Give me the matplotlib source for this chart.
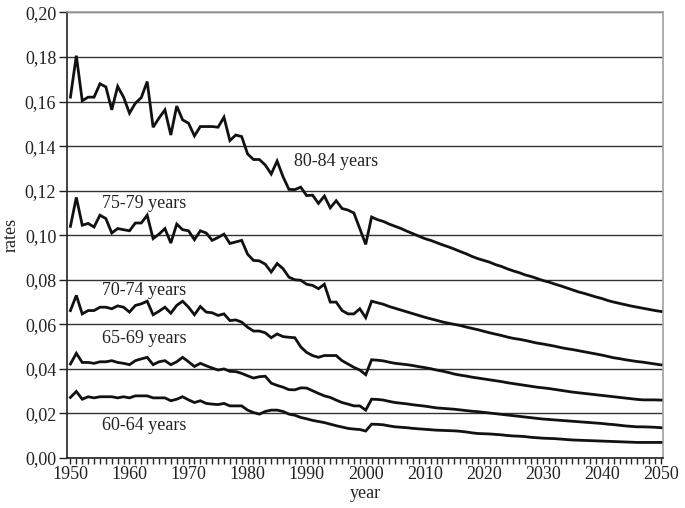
import numpy as np
import matplotlib
matplotlib.use("Agg")
from matplotlib import pyplot as plt
from matplotlib.ticker import FuncFormatter, MultipleLocator

plt.rcParams['font.family'] = ['Liberation Serif', 'DejaVu Serif']

# years 1950..2050, observed up to 2000 then projected
years = np.arange(1950, 2051)

# 80-84 years
rates_80_84 = [
    0.1620, 0.1806, 0.1604, 0.1620, 0.1620, 0.1680, 0.1666, 0.1563, 0.1668, 0.1620,
    0.1548, 0.1593, 0.1618, 0.1690, 0.1485, 0.1526, 0.1563, 0.1450, 0.1580, 0.1518,
    0.1503, 0.1446, 0.1488, 0.1488, 0.1488, 0.1485, 0.1530, 0.1425, 0.1450, 0.1443,
    0.1365, 0.1340, 0.1340, 0.1315, 0.1275, 0.1333, 0.1263, 0.1206, 0.1205, 0.1216,
    0.1178, 0.1180, 0.1143, 0.1176, 0.1123, 0.1155, 0.1120, 0.1113, 0.1100, 0.1030,
    0.0959,
    0.1082, 0.1070, 0.1062, 0.1050, 0.1040, 0.1030, 0.1018, 0.1007, 0.0996, 0.0985,
    0.0977, 0.0967, 0.0957, 0.0948, 0.0938, 0.0927, 0.0917, 0.0905, 0.0895, 0.0887,
    0.0879, 0.0868, 0.0860, 0.0849, 0.0840, 0.0832, 0.0822, 0.0815, 0.0806, 0.0797,
    0.0790, 0.0781, 0.0773, 0.0764, 0.0755, 0.0746, 0.0739, 0.0731, 0.0723, 0.0716,
    0.0707, 0.0700, 0.0694, 0.0688, 0.0682, 0.0677, 0.0672, 0.0667, 0.0662, 0.0658,
]

# 75-79 years
rates_75_79 = [
    0.1040, 0.1170, 0.1045, 0.1053, 0.1037, 0.1090, 0.1075, 0.1010, 0.1030, 0.1025,
    0.1020, 0.1055, 0.1055, 0.1090, 0.0985, 0.1005, 0.1030, 0.0965, 0.1050, 0.1025,
    0.1020, 0.0980, 0.1020, 0.1010, 0.0977, 0.0990, 0.1005, 0.0963, 0.0970, 0.0977,
    0.0915, 0.0887, 0.0885, 0.0870, 0.0835, 0.0873, 0.0850, 0.0812, 0.0800, 0.0798,
    0.0780, 0.0775, 0.0760, 0.0780, 0.0700, 0.0700, 0.0662, 0.0647, 0.0647, 0.0670,
    0.0630,
    0.0704, 0.0697, 0.0690, 0.0680, 0.0672, 0.0664, 0.0656, 0.0648, 0.0640, 0.0632,
    0.0625, 0.0618, 0.0611, 0.0605, 0.0600, 0.0595, 0.0588, 0.0582, 0.0576, 0.0569,
    0.0562, 0.0556, 0.0550, 0.0543, 0.0537, 0.0533, 0.0528, 0.0522, 0.0516, 0.0512,
    0.0507, 0.0502, 0.0496, 0.0491, 0.0487, 0.0482, 0.0477, 0.0472, 0.0467, 0.0462,
    0.0456, 0.0450, 0.0446, 0.0441, 0.0437, 0.0433, 0.0430, 0.0426, 0.0422, 0.0418,
]

# 70-74 years
rates_70_74 = [
    0.0662, 0.0730, 0.0647, 0.0662, 0.0662, 0.0677, 0.0677, 0.0670, 0.0683, 0.0677,
    0.0655, 0.0685, 0.0692, 0.0704, 0.0643, 0.0659, 0.0677, 0.0650, 0.0685, 0.0704,
    0.0677, 0.0643, 0.0680, 0.0655, 0.0652, 0.0640, 0.0647, 0.0617, 0.0620, 0.0610,
    0.0587, 0.0570, 0.0570, 0.0562, 0.0540, 0.0557, 0.0545, 0.0542, 0.0540, 0.0499,
    0.0474, 0.0460, 0.0452, 0.0460, 0.0460, 0.0460, 0.0437, 0.0422, 0.0407, 0.0395,
    0.0374,
    0.0441, 0.0439, 0.0436, 0.0430, 0.0425, 0.0422, 0.0419, 0.0415, 0.0410, 0.0406,
    0.0401, 0.0395, 0.0390, 0.0384, 0.0377, 0.0372, 0.0368, 0.0363, 0.0359, 0.0355,
    0.0351, 0.0347, 0.0343, 0.0338, 0.0334, 0.0330, 0.0326, 0.0322, 0.0318, 0.0315,
    0.0312, 0.0308, 0.0304, 0.0300, 0.0296, 0.0293, 0.0290, 0.0287, 0.0284, 0.0281,
    0.0278, 0.0275, 0.0272, 0.0269, 0.0266, 0.0263, 0.0261, 0.0261, 0.0261, 0.0260,
]

# 65-69 years
rates_65_69 = [
    0.0422, 0.0470, 0.0429, 0.0429, 0.0425, 0.0432, 0.0432, 0.0437, 0.0429, 0.0425,
    0.0419, 0.0437, 0.0445, 0.0452, 0.0419, 0.0432, 0.0437, 0.0419, 0.0432, 0.0452,
    0.0432, 0.0411, 0.0425, 0.0414, 0.0404, 0.0395, 0.0400, 0.0389, 0.0388, 0.0380,
    0.0369, 0.0359, 0.0365, 0.0367, 0.0336, 0.0326, 0.0318, 0.0307, 0.0306, 0.0315,
    0.0314, 0.0302, 0.0290, 0.0279, 0.0272, 0.0260, 0.0249, 0.0242, 0.0234, 0.0234,
    0.0215,
    0.0264, 0.0263, 0.0260, 0.0254, 0.0249, 0.0246, 0.0243, 0.0239, 0.0236, 0.0233,
    0.0229, 0.0225, 0.0223, 0.0221, 0.0219, 0.0216, 0.0213, 0.0210, 0.0208, 0.0205,
    0.0202, 0.0199, 0.0196, 0.0193, 0.0190, 0.0187, 0.0184, 0.0181, 0.0178, 0.0175,
    0.0173, 0.0171, 0.0169, 0.0167, 0.0165, 0.0163, 0.0161, 0.0159, 0.0157, 0.0155,
    0.0152, 0.0150, 0.0147, 0.0144, 0.0142, 0.0140, 0.0140, 0.0139, 0.0138, 0.0136,
]

# 60-64 years
rates_60_64 = [
    0.0272, 0.0299, 0.0264, 0.0275, 0.0270, 0.0275, 0.0275, 0.0275, 0.0270, 0.0275,
    0.0270, 0.0279, 0.0279, 0.0279, 0.0270, 0.0270, 0.0270, 0.0257, 0.0264, 0.0275,
    0.0261, 0.0249, 0.0257, 0.0245, 0.0242, 0.0240, 0.0245, 0.0234, 0.0234, 0.0234,
    0.0215, 0.0204, 0.0197, 0.0209, 0.0215, 0.0215, 0.0209, 0.0197, 0.0192, 0.0182,
    0.0176, 0.0169, 0.0164, 0.0159, 0.0152, 0.0145, 0.0139, 0.0133, 0.0130, 0.0128,
    0.0121,
    0.0152, 0.0151, 0.0149, 0.0144, 0.0140, 0.0138, 0.0136, 0.0133, 0.0131, 0.0129,
    0.0127, 0.0125, 0.0124, 0.0123, 0.0122, 0.0120, 0.0117, 0.0113, 0.0110, 0.0109,
    0.0108, 0.0106, 0.0104, 0.0101, 0.0099, 0.0098, 0.0096, 0.0093, 0.0091, 0.0089,
    0.0088, 0.0087, 0.0085, 0.0083, 0.0081, 0.0080, 0.0079, 0.0078, 0.0077, 0.0076,
    0.0075, 0.0074, 0.0073, 0.0072, 0.0071, 0.0070, 0.0070, 0.0070, 0.0070, 0.0070,
]

series = [rates_80_84, rates_75_79, rates_70_74, rates_65_69, rates_60_64]
labels = ['80-84 years', '75-79 years', '70-74 years', '65-69 years', '60-64 years']
# where each group label sits (year, rate)
label_pos = [(1994.9, 0.1329), (1962.5, 0.1144), (1962.5, 0.0752),
             (1962.5, 0.0536), (1962.5, 0.0144)]

fig = plt.figure(figsize=(6.85, 5.08), dpi=100)
ax = fig.add_axes([0.0985, 0.0984, 0.869, 0.877])

for s in series:
    assert len(s) == len(years)
    ax.plot(years, s, color='#111111', lw=2.0, solid_joinstyle='miter', zorder=3)

for txt, (x, y) in zip(labels, label_pos):
    ax.text(x, y, txt, ha='center', va='center', fontsize=13, color='#222222', zorder=4)

ax.set_xlim(1949.5, 2050.3)
ax.set_ylim(0, 0.20)

ax.yaxis.set_major_locator(MultipleLocator(0.02))
ax.yaxis.set_major_formatter(FuncFormatter(lambda v, p: f'{v:.2f}'.replace('.', ',')))
ax.xaxis.set_major_locator(MultipleLocator(10))
ax.xaxis.set_minor_locator(MultipleLocator(1))

ax.grid(axis='y', color='#333333', lw=1.0, zorder=1)
ax.tick_params(axis='both', which='both', direction='out', labelsize=13, colors='#222222')
ax.tick_params(axis='y', length=6, width=1, pad=2)
ax.tick_params(axis='x', which='both', length=4, width=1, pad=2)

for side in ['left', 'bottom']:
    ax.spines[side].set_color('#222222')
    ax.spines[side].set_linewidth(1.2)
for side in ['top', 'right']:
    ax.spines[side].set_color('#a0a0a0')
    ax.spines[side].set_linewidth(1.2)

ax.set_xlabel('year', fontsize=13, color='#222222', labelpad=1)
ax.set_ylabel('rates', fontsize=13, color='#222222', labelpad=4)

fig.savefig('out.png', dpi=100)
